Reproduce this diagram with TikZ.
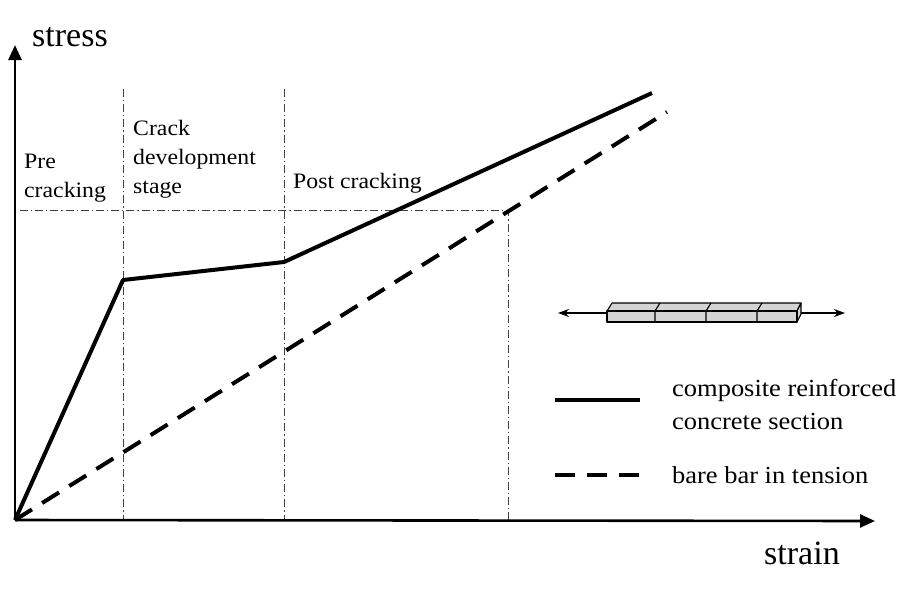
\documentclass[tikz,border=0pt]{standalone}
\usepackage{fontspec}
\setmainfont{Liberation Serif}
\newfontfamily\widefont[FakeStretch=1.08]{Liberation Serif}
\usetikzlibrary{positioning,arrows.meta}
\tikzset{
	axis/.style={line width=2.6pt, -{Triangle[length=15pt,width=13pt]}},
	guide/.style={line width=0.9pt, black!75, dash pattern=on 8pt off 3pt on 1.2pt off 3pt},
	composite/.style={line width=4pt, line join=round},
	bare/.style={line width=4pt, dash pattern=on 20pt off 12pt},
	axislabel/.style={font=\fontsize{34}{40}\selectfont, inner sep=0pt, anchor=base west},
	stage/.style={font=\widefont\fontsize{22}{29}\selectfont, align=left, inner sep=0pt, anchor=base west},
	legendtext/.style={font=\widefont\fontsize{24.5}{33}\selectfont, align=left, inner sep=0pt},
	barface/.style={draw, line width=1.1pt, fill=black!17, line join=round}
}
\begin{document}
\begin{tikzpicture}[x=1pt, y=-1pt]
	\useasboundingbox (0,0) rectangle (918,598);
	
	\coordinate (O) at (15,520);
	\coordinate (ytip) at (15,45);
	\coordinate (xtip) at (875,521);
	\coordinate (k1) at (123,280);
	\coordinate (k2) at (284,262);
	\coordinate (e1) at (652,93);
	\coordinate (e2) at (667,112);
	\coordinate (g1t) at (123,89);
	\coordinate (g1b) at (123,520);
	\coordinate (g2t) at (284,89);
	\coordinate (g2b) at (284,520);
	\coordinate (g3t) at (508,210);
	\coordinate (g3b) at (508,520);
	\coordinate (hl) at (20,210);
	
	\draw[guide] (g1t) -- (g1b);
	\draw[guide] (g2t) -- (g2b);
	\draw[guide] (hl) -- (g3t) -- (g3b);
	
	\draw[axis] (O) -- (ytip);
	\draw[axis] (O) -- (xtip);
	
	\draw[composite] (O) -- (k1) -- (k2) -- (e1);
	\draw[bare] (O) -- (e2);
	
	\node[axislabel] (stress) at (32,46) {stress};
	\node[axislabel] (strain) at (764,564) {strain};
	
	\node[stage] (pre) at (24,197) {Pre\\cracking};
	\node[stage] (crack) at (133,193) {Crack\\development\\stage};
	\node[stage] (post) at (293,188) {Post cracking};
	
	\coordinate (barl) at (558,313);
	\coordinate (barr) at (845,313);
	\draw[line width=1.1pt, {Stealth[length=11pt,width=8pt]}-{Stealth[length=11pt,width=8pt]}] (barl) -- (barr);
	\draw[barface] (607,311) -- (612,303) -- (801,303) -- (797,311) -- cycle;
	\draw[barface] (797,311) -- (801,303) -- (801,314) -- (797,322) -- cycle;
	\draw[barface] (607,311) rectangle (797,322);
	\foreach \x in {655,706,757} {
		\draw[line width=1.1pt] (\x,322) -- (\x,311) -- (\x+5,303);
	}
	
	\coordinate (l1a) at (555,400);
	\coordinate (l1b) at (640,400);
	\coordinate (l2a) at (555,475);
	\coordinate (l2b) at (640,475);
	\draw[composite] (l1a) -- (l1b);
	\draw[bare] (l2a) -- (l2b);
	\node[legendtext, right=32pt of l1b, yshift=-4pt] (comptext) {composite reinforced\\concrete section};
	\node[legendtext, right=32pt of l2b] (baretext) {bare bar in tension};
\end{tikzpicture}
\end{document}
